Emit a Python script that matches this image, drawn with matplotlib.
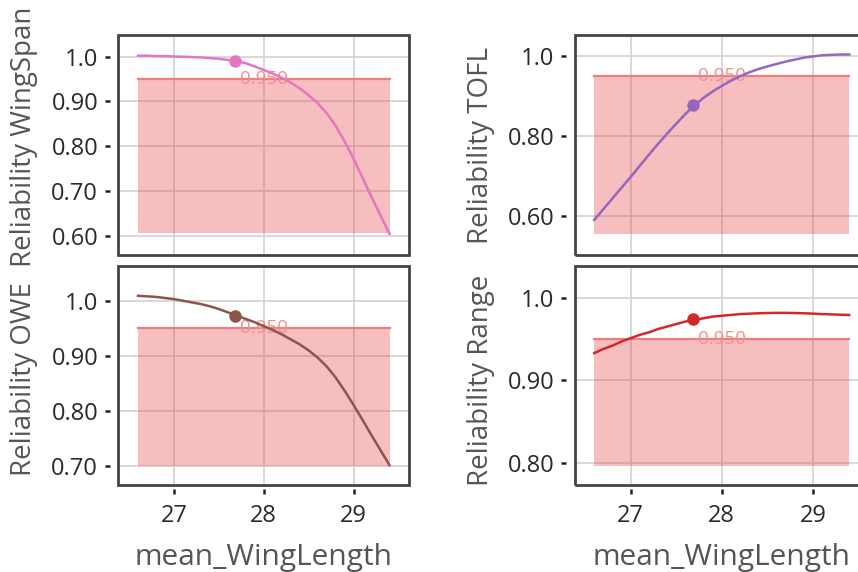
import matplotlib
matplotlib.use("Agg")
import matplotlib.pyplot as plt
from matplotlib.patches import Rectangle

# ---- data -------------------------------------------------------------
wing_length = [26.6, 26.7, 26.8, 26.9, 27.0, 27.1, 27.2, 27.3, 27.4, 27.5,
               27.6, 27.7, 27.8, 27.9, 28.0, 28.1, 28.2, 28.3, 28.4, 28.5,
               28.6, 28.7, 28.8, 28.9, 29.0, 29.1, 29.2, 29.3, 29.4]

rel_wingspan = [1.002, 1.002, 1.001, 1.001, 1.000, 0.9995, 0.9988, 0.998, 0.9965, 0.995,
                0.9925, 0.990, 0.985, 0.978, 0.970, 0.962, 0.953, 0.942, 0.929, 0.914,
                0.896, 0.874, 0.846, 0.811, 0.772, 0.730, 0.687, 0.646, 0.605]
rel_tofl = [0.589, 0.616, 0.643, 0.670, 0.697, 0.725, 0.753, 0.780, 0.806, 0.831,
            0.855, 0.877, 0.896, 0.912, 0.926, 0.939, 0.950, 0.960, 0.968, 0.975,
            0.981, 0.987, 0.992, 0.997, 1.000, 1.003, 1.004, 1.005, 1.005]
rel_owe = [1.009, 1.008, 1.007, 1.005, 1.003, 1.000, 0.997, 0.994, 0.990, 0.985,
           0.979, 0.973, 0.967, 0.961, 0.954, 0.947, 0.939, 0.930, 0.921, 0.910,
           0.897, 0.881, 0.861, 0.837, 0.811, 0.784, 0.756, 0.729, 0.702]
rel_range = [0.933, 0.938, 0.942, 0.947, 0.951, 0.955, 0.958, 0.962, 0.965, 0.968,
             0.971, 0.973, 0.975, 0.977, 0.978, 0.979, 0.980, 0.9805, 0.981, 0.9813,
             0.9815, 0.9815, 0.9813, 0.981, 0.9806, 0.980, 0.9797, 0.9793, 0.979]

design_wing_length = 27.68
design_rel = {"WingSpan": 0.9905, "TOFL": 0.877, "OWE": 0.973, "Range": 0.974}

threshold = 0.95
band_low = {"WingSpan": 0.607, "TOFL": 0.553, "OWE": 0.700, "Range": 0.797}

y_ticks = {
    "WingSpan": [0.6, 0.7, 0.8, 0.9, 1.0],
    "TOFL": [0.6, 0.8, 1.0],
    "OWE": [0.7, 0.8, 0.9, 1.0],
    "Range": [0.8, 0.9, 1.0],
}
y_tick_labels = {
    "WingSpan": ["0.60", "0.70", "0.80", "0.90", "1.0"],
    "TOFL": ["0.60", "0.80", "1.0"],
    "OWE": ["0.70", "0.80", "0.90", "1.0"],
    "Range": ["0.80", "0.90", "1.0"],
}
x_ticks = [27, 28, 29]
x_tick_labels = ["27", "28", "29"]

# ---- styling ----------------------------------------------------------
plt.rcParams["font.family"] = ["Open Sans", "DejaVu Sans"]

W, H = 858, 572
fig = plt.figure(figsize=(W / 100, H / 100), dpi=100)
fig.patch.set_facecolor("white")


def px_axes(x0, y0, x1, y1):
    return fig.add_axes([x0 / W, 1 - y1 / H, (x1 - x0) / W, (y1 - y0) / H])


# name, values, colour, frame box (px), y-limits, x ticks shown, y-title centre (px)
panels = [
    ("WingSpan", rel_wingspan, "#e377c2", (118.5, 35, 409, 254.5), (0.559, 1.048), False, (24, 137)),
    ("TOFL", rel_tofl, "#9467bd", (574.5, 35, 869, 254.5), (0.502, 1.054), False, (481, 145)),
    ("OWE", rel_owe, "#8c564b", (118.5, 266, 409, 485), (0.666, 1.063), True, (24, 379)),
    ("Range", rel_range, "#d62728", (574.5, 266, 869, 485), (0.774, 1.038), True, (481, 380)),
]

for name, values, color, box, ylim, show_x, title_xy in panels:
    x0, y0, x1, y1 = box
    ax = px_axes(x0, y0, x1, y1)
    ax.set_xlim(26.383, 29.617)
    ax.set_ylim(*ylim)
    ax.set_axisbelow(True)
    ax.grid(True, color="#d2d2d2", linewidth=1.2)

    # acceptable-region band and threshold line
    ax.fill_between([wing_length[0], wing_length[-1]], band_low[name], threshold,
                    color="#e8464a", alpha=0.35, linewidth=0, zorder=2)
    ax.plot([wing_length[0], wing_length[-1]], [threshold, threshold],
            color="#f07c7c", linewidth=1.6, zorder=3)
    ax.text(28.0, threshold, f"{threshold:.3f}", color="#f48e8e", fontsize=13.5,
            ha="center", va="center", zorder=4)

    # reliability curve and current design point
    ax.plot(wing_length, values, color=color, linewidth=1.8, zorder=5,
            solid_joinstyle="round")
    ax.plot([design_wing_length], [design_rel[name]], "o", color=color,
            markersize=9, markeredgewidth=0, zorder=6)

    # spines replaced by a frame; ticks offset from it
    for s in ax.spines.values():
        s.set_linewidth(0)
        s.set_color("none")
    ax.spines["left"].set_position(("outward", 6))
    ax.spines["bottom"].set_position(("outward", 3))
    ax.add_patch(Rectangle((0, 0), 1, 1, transform=ax.transAxes, fill=False,
                           edgecolor="#444444", linewidth=2.0, zorder=10,
                           clip_on=False))

    ax.set_yticks(y_ticks[name])
    ax.set_yticklabels(y_tick_labels[name])
    ax.set_xticks(x_ticks)
    ax.tick_params(axis="y", length=3.6, width=1.8, color="#222222", pad=5,
                   labelsize=17, labelcolor="#2a2a2a")
    if show_x:
        ax.set_xticklabels(x_tick_labels)
        ax.tick_params(axis="x", length=3.4, width=1.8, color="#222222", pad=7,
                       labelsize=17, labelcolor="#2a2a2a")
        ax.set_xlabel("mean_WingLength", fontsize=21.5, color="#555555", va="center")
        ax.xaxis.set_label_coords(0.5, (y1 - 557) / (y1 - y0))
    else:
        ax.tick_params(axis="x", length=0, labelbottom=False)

    tx, ty = title_xy
    ax.set_ylabel(f"Reliability {name}", fontsize=20, color="#555555", va="center")
    ax.yaxis.set_label_coords((tx - x0) / (x1 - x0), (y1 - ty) / (y1 - y0))

fig.savefig("out.png", dpi=100, facecolor="white")
